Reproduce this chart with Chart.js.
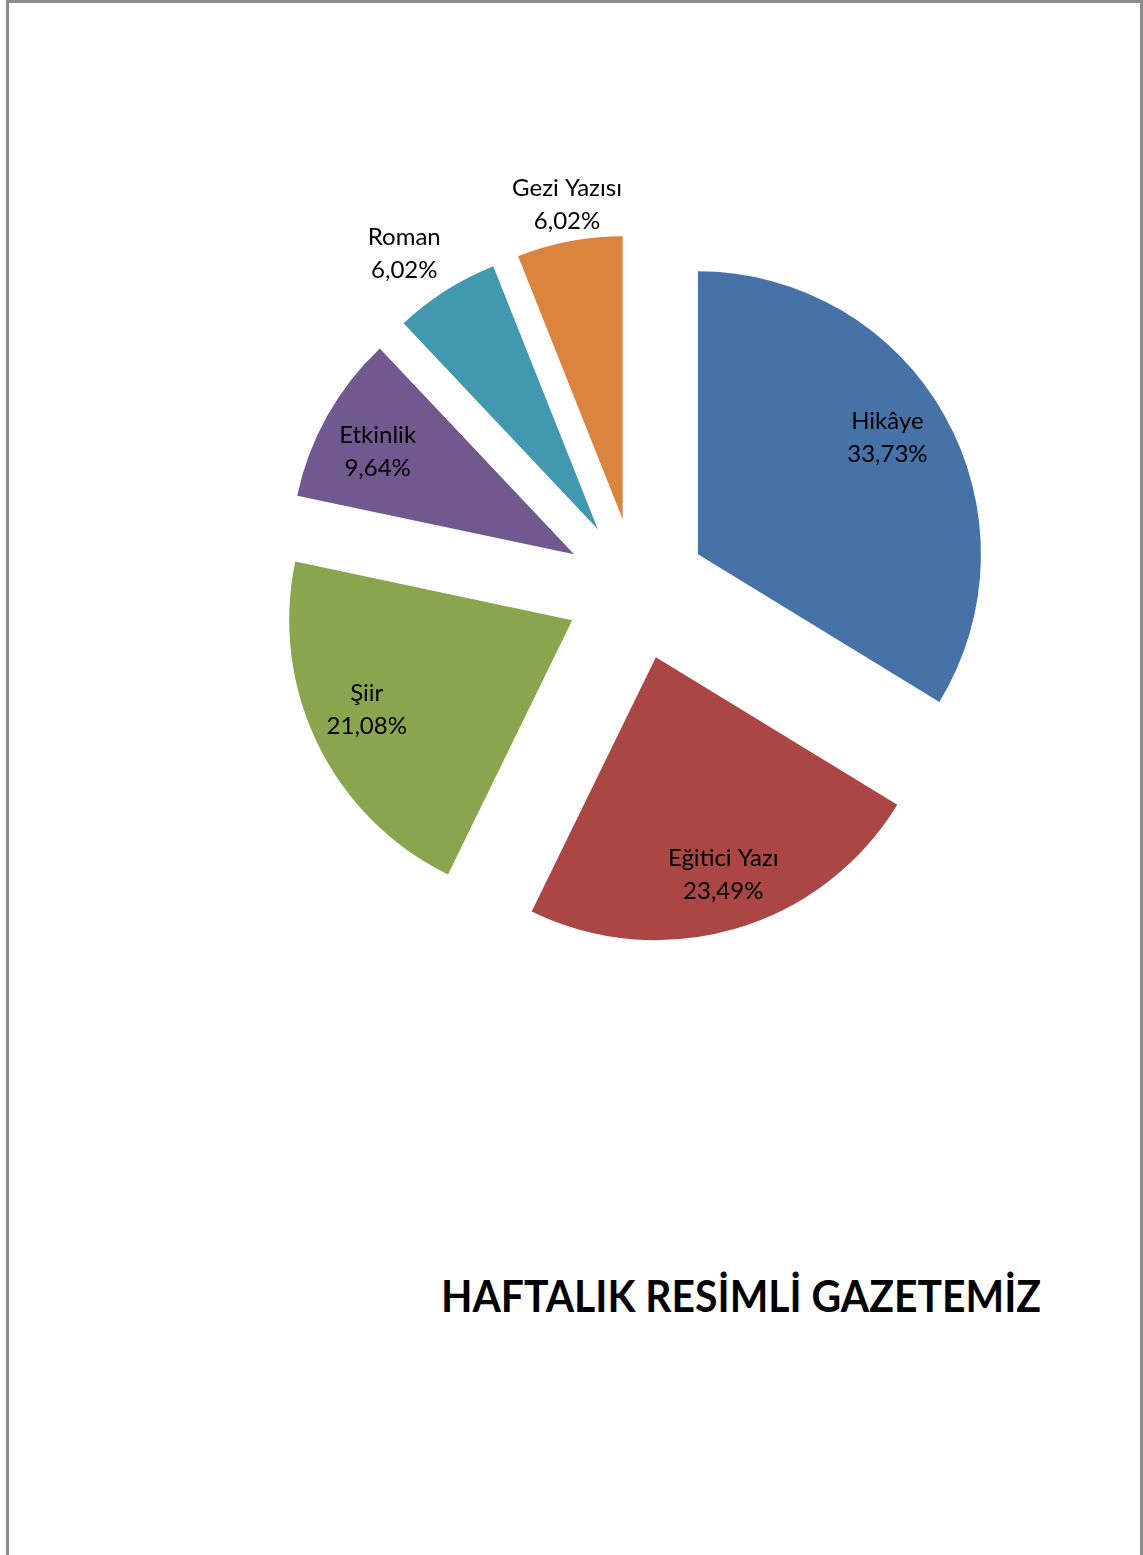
<!DOCTYPE html>
<html>
<head>
<meta charset="utf-8">
<script src="https://cdn.jsdelivr.net/npm/chart.js@4"></script>
<style>
  body { margin: 0; background: #fff; width: 1143px; height: 1555px; overflow: hidden; position: relative; }
  #page { position: absolute; left: 6px; top: 0; width: 1131px; height: 1600px; border: 3px solid #8c8c8c; border-bottom: none; }
  #wrap { position: absolute; left: 186px; top: 139px; width: 900px; height: 900px; }
  #title { position: absolute; left: 441px; top: 1267px; font-family: Lato, sans-serif; font-weight: bold;
           font-size: 44px; color: #000; white-space: nowrap; transform-origin: 0 0; line-height: 56px; }
</style>
</head>
<body>
<div id="page"></div>
<div id="wrap"><canvas id="myChart"></canvas></div>
<div id="title">HAFTALIK RESİMLİ GAZETEMİZ</div>
<script>
const categories = ['Hikâye', 'Eğitici Yazı', 'Şiir', 'Etkinlik', 'Roman', 'Gezi Yazısı'];
const shares = [33.73, 23.49, 21.08, 9.64, 6.02, 6.02];
const percentLabels = ['33,73%', '23,49%', '21,08%', '9,64%', '6,02%', '6,02%'];
const sliceColors = ['#4672a8', '#aa4643', '#89a54e', '#71588f', '#4198af', '#db843d'];

// fit title to its width in the reference
const title = document.getElementById('title');
const tw = title.getBoundingClientRect().width;
title.style.transform = `scaleX(${600 / tw})`;

// pull slices out like Excel does: shift whole slice, keep radius and angles
const explode = {
    id: 'explode',
    beforeDatasetDraw(chart, args, opts) {
        const ctx = chart.ctx;
        args.meta.data.forEach(arc => {
            const mid = (arc.startAngle + arc.endAngle) / 2;
            ctx.save();
            ctx.translate(Math.cos(mid) * opts.distance, Math.sin(mid) * opts.distance);
            arc.draw(ctx);
            ctx.restore();
        });
        return false;
    }
};

const sliceLabels = {
    id: 'sliceLabels',
    afterDatasetsDraw(chart, args, opts) {
        const ctx = chart.ctx;
        const meta = chart.getDatasetMeta(0);
        ctx.save();
        ctx.font = opts.font;
        ctx.fillStyle = '#000';
        ctx.textAlign = 'center';
        ctx.textBaseline = 'middle';
        meta.data.forEach((arc, i) => {
            const mid = (arc.startAngle + arc.endAngle) / 2;
            const r = opts.distance + opts.factors[i] * arc.outerRadius;
            const x = arc.x + Math.cos(mid) * r + opts.nudge[i][0];
            const y = arc.y + Math.sin(mid) * r + opts.nudge[i][1];
            ctx.fillText(categories[i], x, y - opts.lineGap / 2);
            ctx.fillText(percentLabels[i], x, y + opts.lineGap / 2);
        });
        ctx.restore();
    }
};

const ctx = document.getElementById('myChart');

new Chart(ctx, {
    type: 'pie',
    data: {
        labels: categories,
        datasets: [{
            data: shares,
            backgroundColor: sliceColors,
            borderWidth: 0
        }]
    },
    options: {
        responsive: true,
        maintainAspectRatio: false,
        animation: false,
        radius: 283,
        events: [],
        plugins: {
            legend: { display: false },
            tooltip: { enabled: false },
            explode: { distance: 71 },
            sliceLabels: {
                distance: 71,
                factors: [0.8, 0.8, 0.8, 0.8, 1.2, 1.14],
                nudge: [[-8, -6], [4, 0], [-2, -10], [1, 8], [-11, 11], [5, 2]],
                font: '24px Lato',
                lineGap: 33
            }
        }
    },
    plugins: [explode, sliceLabels]
});
</script>
</body>
</html>
